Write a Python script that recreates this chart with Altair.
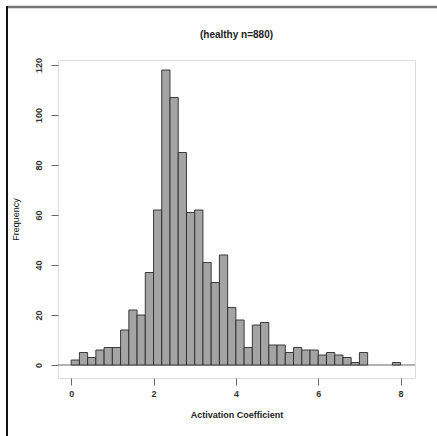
import altair as alt
import pandas as pd

# Histogram bins (width 0.2) and counts
bin_start = [0.0, 0.2, 0.4, 0.6, 0.8, 1.0, 1.2, 1.4, 1.6, 1.8,
             2.0, 2.2, 2.4, 2.6, 2.8, 3.0, 3.2, 3.4, 3.6, 3.8,
             4.0, 4.2, 4.4, 4.6, 4.8, 5.0, 5.2, 5.4, 5.6, 5.8,
             6.0, 6.2, 6.4, 6.6, 6.8, 7.0, 7.2, 7.4, 7.6, 7.8]
counts = [2, 5, 3, 6, 7, 7, 14, 22, 20, 37,
          62, 118, 107, 85, 61, 62, 41, 33, 44, 23,
          18, 7, 16, 17, 8, 8, 5, 7, 6, 6,
          4, 5, 4, 3, 1, 5, 0, 0, 0, 1]
bin_width = 0.2
x_ticks = [0, 2, 4, 6, 8]
y_ticks = [0, 20, 40, 60, 80, 100, 120]
title_text = "(healthy n=880)"

df = pd.DataFrame({
    "start": bin_start,
    "end": [s + bin_width for s in bin_start],
    "count": counts,
})
df = df[df["count"] > 0]

FONT = "Liberation Sans"
W, H = 357, 318
L, T = 58, 60

xscale = alt.Scale(domain=[-0.32, 8.35], nice=False, zero=False)
yscale = alt.Scale(domain=[-5.2, 122], nice=False, zero=False)

bars = alt.Chart(df).mark_bar(
    fill="#a4a4a4", stroke="#2a2a2a", strokeWidth=0.9
).encode(
    x=alt.X("start:Q", scale=xscale,
            axis=alt.Axis(values=x_ticks, title="Activation Coefficient",
                          domain=False, tickSize=7, tickColor="#666",
                          tickWidth=1, grid=False, labelFont=FONT,
                          labelFontSize=9, labelFontWeight="bold",
                          labelColor="#333", labelPadding=4,
                          titleFont=FONT, titleFontSize=9,
                          titleFontWeight="bold", titleColor="#222",
                          titlePadding=12)),
    x2="end:Q",
    y=alt.Y("count:Q", scale=yscale,
            axis=alt.Axis(values=y_ticks, title="Frequency",
                          domain=False, tickSize=7, tickColor="#666",
                          tickWidth=1, grid=False, labelFont=FONT,
                          labelFontSize=9, labelFontWeight="bold",
                          labelColor="#333", labelAngle=-90,
                          labelAlign="center", labelBaseline="bottom",
                          labelPadding=8,
                          titleFont=FONT, titleFontSize=9,
                          titleFontWeight="normal", titleColor="#111",
                          titlePadding=14)),
    y2=alt.datum(0),
)

zero_line = alt.Chart(pd.DataFrame({"y": [0]})).mark_rule(
    color="#9a9a9a", strokeWidth=1.5
).encode(y=alt.Y("y:Q", scale=yscale), x=alt.value(0), x2=alt.value(W))

title = alt.Chart(pd.DataFrame({"t": [title_text]})).mark_text(
    font=FONT, fontSize=10, fontWeight="bold", color="#222",
    align="center", baseline="middle"
).encode(text="t:N", x=alt.value(W / 2), y=alt.value(35 - T))

frame_top = alt.Chart(pd.DataFrame({"a": [0]})).mark_rule(
    color="#777777", strokeWidth=2.5
).encode(x=alt.value(7 - L), x2=alt.value(437 - L), y=alt.value(7 - T))

frame_left = alt.Chart(pd.DataFrame({"a": [0]})).mark_rule(
    color="#111111", strokeWidth=2
).encode(x=alt.value(7 - L), y=alt.value(6 - T), y2=alt.value(436 - T))

chart = alt.layer(zero_line, bars, title, frame_top, frame_left).properties(
    width=W, height=H,
    autosize=alt.AutoSizeParams(type="none"),
    padding={"left": L, "top": T, "right": 437 - L - W, "bottom": 436 - T - H},
).configure_view(
    stroke="#8a8a8a", strokeWidth=2.2
).configure(background="white")

chart.save("out.html", embed_options={"renderer": "svg", "actions": False})
